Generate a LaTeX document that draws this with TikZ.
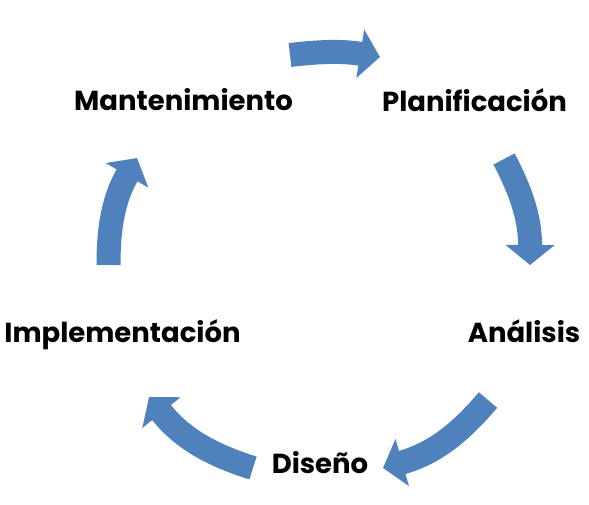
\documentclass[tikz,border=0pt]{standalone}
\usepackage{fontspec}
\setmainfont{Poppins}
\usetikzlibrary{arrows.meta}
\definecolor{azulciclo}{HTML}{4F81BD}

\begin{document}
\begin{tikzpicture}[x=1pt,y=1pt,
    fase/.style={anchor=base,inner sep=0pt,font=\bfseries\fontsize{27.5}{32}\selectfont},
    ciclo/.style={azulciclo,line width=24pt,-{Triangle[length=20pt,width=48pt]}}]
    \useasboundingbox (0,0) rectangle (589,504);
    \draw node (mant) [fase] at (183.5,393) {Mantenimiento}
          node (plan) [fase] at (474.5,392) {Planificación}
          node (anal) [fase] at (524,162) {Análisis}
          node (dise) [fase] at (320,31) {Diseño}
          node (impl) [fase] at (122.5,162) {Implementación};
    \coordinate (plan-in) at (290,449);  \coordinate (plan-out) at (380,447);
    \coordinate (anal-in) at (504,345);  \coordinate (anal-out) at (530,239);
    \coordinate (dise-in) at (488,104);  \coordinate (dise-out) at (383,36);
    \coordinate (impl-in) at (253,36);   \coordinate (impl-out) at (149,107);
    \coordinate (mant-in) at (108.5,239); \coordinate (mant-out) at (137,346);
    \draw[ciclo] (plan-in) to[bend left=8] (plan-out);
    \draw[ciclo] (anal-in) to[bend left=14] (anal-out);
    \draw[ciclo] (dise-in) to[bend left=17] (dise-out);
    \draw[ciclo] (impl-in) to[bend left=17] (impl-out);
    \draw[ciclo] (mant-in) to[bend left=15] (mant-out);
  \end{tikzpicture}
\end{document}
